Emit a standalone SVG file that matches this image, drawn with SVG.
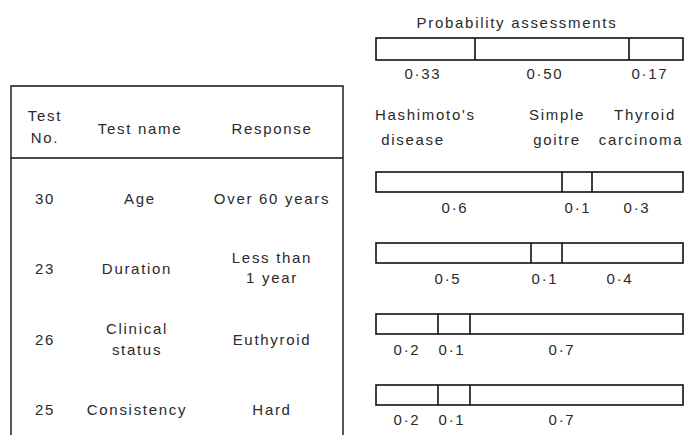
<svg xmlns="http://www.w3.org/2000/svg" width="697" height="435" viewBox="0 0 697 435">
<style>
text{font-family:"Liberation Sans",Arial,sans-serif;font-size:15px;fill:#2a2a2a;letter-spacing:1.7px;text-anchor:middle}
.l{text-anchor:start}
.bar{fill:#fff;stroke:#111;stroke-width:1.6}
.div{stroke:#111;stroke-width:1.6}
.tl{stroke:#111;stroke-width:1.4;fill:none}
</style>
<rect width="697" height="435" fill="#fff"/>
<g id="table">
<path class="tl" d="M11,435 V86 H343 V435 M11,158 H343"/>
<text x="45" y="121">Test</text>
<text x="45" y="143">No.</text>
<text x="140" y="134">Test name</text>
<text x="272" y="134">Response</text>
</g>
<g id="row30">
<text x="45" y="204">30</text>
<text x="140" y="204">Age</text>
<text x="272" y="204">Over 60 years</text>
</g>
<g id="row23">
<text x="45" y="274">23</text>
<text x="137" y="274">Duration</text>
<text x="272" y="263">Less than</text>
<text x="272" y="283">1 year</text>
</g>
<g id="row26">
<text x="45" y="345">26</text>
<text x="137" y="334">Clinical</text>
<text x="137" y="355">status</text>
<text x="272" y="345">Euthyroid</text>
</g>
<g id="row25">
<text x="45" y="415">25</text>
<text x="137" y="415">Consistency</text>
<text x="272" y="415">Hard</text>
</g>
<g id="prior">
<text x="517" y="28">Probability assessments</text>
<rect class="bar" x="376" y="38" width="307" height="22"/>
<line class="div" x1="475" y1="38" x2="475" y2="60"/>
<line class="div" x1="629" y1="38" x2="629" y2="60"/>
<text x="423" y="79">0·33</text>
<text x="545" y="79">0·50</text>
<text x="650" y="79">0·17</text>
</g>
<g id="diseases">
<text class="l" x="375" y="120">Hashimoto's</text>
<text x="413" y="145">disease</text>
<text x="557" y="120">Simple</text>
<text x="557" y="145">goitre</text>
<text x="645" y="120">Thyroid</text>
<text x="641" y="145">carcinoma</text>
</g>
<g id="bar30">
<rect class="bar" x="376" y="172" width="307" height="20"/>
<line class="div" x1="562" y1="172" x2="562" y2="192"/>
<line class="div" x1="592" y1="172" x2="592" y2="192"/>
<text x="455" y="213">0·6</text>
<text x="578" y="213">0·1</text>
<text x="637" y="213">0·3</text>
</g>
<g id="bar23">
<rect class="bar" x="376" y="243" width="307" height="20"/>
<line class="div" x1="531" y1="243" x2="531" y2="263"/>
<line class="div" x1="562" y1="243" x2="562" y2="263"/>
<text x="448" y="284">0·5</text>
<text x="545" y="284">0·1</text>
<text x="620" y="284">0·4</text>
</g>
<g id="bar26">
<rect class="bar" x="376" y="314" width="307" height="20"/>
<line class="div" x1="438" y1="314" x2="438" y2="334"/>
<line class="div" x1="470" y1="314" x2="470" y2="334"/>
<text x="407" y="355">0·2</text>
<text x="452" y="355">0·1</text>
<text x="562" y="355">0·7</text>
</g>
<g id="bar25">
<rect class="bar" x="376" y="385" width="307" height="20"/>
<line class="div" x1="438" y1="385" x2="438" y2="405"/>
<line class="div" x1="470" y1="385" x2="470" y2="405"/>
<text x="407" y="425">0·2</text>
<text x="452" y="425">0·1</text>
<text x="562" y="425">0·7</text>
</g>
</svg>
